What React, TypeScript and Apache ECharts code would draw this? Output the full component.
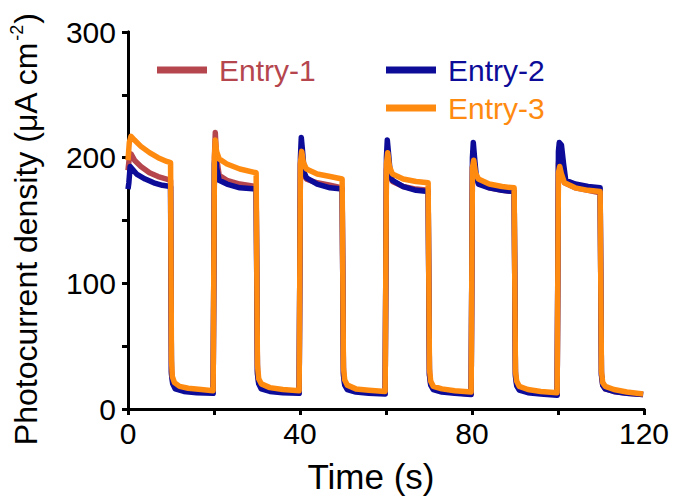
import React, { useEffect, useRef } from "react";
import * as echarts from "echarts";

const FONT = "Arial, 'Liberation Sans', sans-serif";

const seriesNames = ["Entry-1", "Entry-2", "Entry-3"];
const seriesColors = ["#b5464e", "#0c0c98", "#ff8a10"];

const xTicks = [0, 40, 80, 120];
const yTicks = [0, 100, 200, 300];

// Entry-1 (time s, photocurrent µA cm^-2)
const entry1: number[][] = [
  [0, 190], [0.3, 200], [0.7, 203], [1.5, 198], [3, 193], [5, 188], [7, 185], [9, 183], [9.9, 182],
  [10.1, 30], [10.4, 22], [11, 18], [13, 16], [16, 14.5], [19.8, 13.5],
  [20.1, 200], [20.3, 220], [20.6, 200], [21.2, 186], [23, 182], [26, 179], [29.8, 177],
  [30.1, 30], [30.4, 21], [31, 17.5], [33, 15.5], [36, 14], [39.8, 13],
  [40.1, 195], [40.4, 203], [40.8, 188], [41.5, 183], [44, 180], [47, 178], [49.8, 176],
  [50.1, 29], [50.4, 20], [51, 17], [53, 15], [56, 13.5], [59.8, 12.5],
  [60.1, 190], [60.4, 200], [60.8, 187], [61.5, 181], [64, 177], [67, 175], [69.8, 174],
  [70.1, 28], [70.4, 20], [71, 16.5], [73, 14.5], [76, 13], [79.8, 12],
  [80.1, 192], [80.4, 200], [80.8, 186], [81.5, 180], [84, 176], [87, 174], [89.8, 173],
  [90.1, 28], [90.4, 19.5], [91, 16], [93, 14], [96, 12.5], [99.8, 11.5],
  [100.1, 195], [100.4, 205], [100.8, 190], [101.5, 180], [104, 176], [107, 174], [109.8, 172],
  [110.1, 28], [110.4, 19], [111, 16], [113, 14], [116, 12.5], [119.8, 11.5],
];

// Entry-2
const entry2: number[][] = [
  [0, 175], [0.2, 180], [0.5, 193], [1, 191], [2, 187], [4, 183], [6, 180], [8, 178], [9.9, 177],
  [10.1, 28], [10.4, 20], [11, 16], [13, 14], [16, 13], [19.8, 12.5],
  [20.1, 195], [20.3, 205], [20.6, 192], [21.2, 182], [23, 179], [26, 176], [29.8, 175],
  [30.1, 28], [30.4, 20], [31, 16], [33, 14], [36, 13], [39.8, 12.5],
  [40.1, 200], [40.3, 216], [40.6, 205], [41, 188], [41.5, 184], [44, 179], [47, 176], [49.8, 175],
  [50.1, 27], [50.4, 19], [51, 15.5], [53, 13.5], [56, 12.5], [59.8, 12],
  [60.1, 200], [60.3, 214], [60.6, 203], [61, 187], [61.5, 182], [64, 177], [67, 174], [69.8, 173],
  [70.1, 27], [70.4, 19], [71, 15.5], [73, 13.5], [76, 12.5], [79.8, 11.5],
  [80.1, 200], [80.3, 212], [80.6, 200], [81, 185], [81.5, 179], [84, 176], [87, 174], [89.8, 173],
  [90.1, 26], [90.4, 18.5], [91, 15], [93, 13], [96, 12], [99.8, 11],
  [100.1, 205], [100.3, 212], [100.8, 210], [101.3, 195], [101.8, 182], [104, 179], [107, 177], [109.8, 176],
  [110.1, 27], [110.4, 19], [111, 16], [113, 14], [116, 12.5], [119.8, 11.5],
];

// Entry-3
const entry3: number[][] = [
  [0, 198], [0.3, 212], [0.7, 217], [1.5, 214], [3, 209], [5, 204], [7, 200], [9, 197], [9.9, 196],
  [10.1, 40], [10.3, 26], [10.8, 21], [12, 18], [14, 16.5], [17, 15.5], [19.8, 14.5],
  [20.1, 200], [20.3, 214], [20.6, 205], [21.2, 199], [23, 195], [26, 191], [29.8, 188],
  [30.1, 35], [30.4, 24], [31, 20], [33, 17], [36, 15.5], [39.8, 14.5],
  [40.1, 196], [40.4, 205], [40.8, 196], [41.5, 191], [44, 187], [47, 185], [49.8, 183],
  [50.1, 33], [50.4, 23], [51, 19], [53, 16], [56, 15], [59.8, 14],
  [60.1, 195], [60.4, 204], [60.8, 193], [61.5, 187], [64, 183], [67, 181], [69.8, 180],
  [70.1, 32], [70.4, 22], [71, 18], [73, 16], [76, 14.5], [79.8, 13.5],
  [80.1, 192], [80.4, 198], [80.8, 188], [81.5, 183], [84, 179], [87, 177], [89.8, 176],
  [90.1, 30], [90.4, 22], [91, 18], [93, 15.5], [96, 14], [99.8, 13],
  [100.1, 188], [100.4, 193], [100.8, 187], [101.5, 180], [104, 176], [107, 174], [109.8, 173],
  [110.1, 30], [110.4, 21], [111, 18], [113, 15.5], [116, 13.5], [119.8, 12],
];

const seriesData = [entry1, entry2, entry3];

const legendPos = [
  { left: 152, top: 50 },
  { left: 381, top: 50 },
  { left: 381, top: 88 },
];

export default function App() {
  const ref = useRef<HTMLDivElement>(null);
  useEffect(() => {
    if (!ref.current) return;
    const chart = echarts.init(ref.current, null, { renderer: "svg" });
    const axisLine = { show: true, lineStyle: { color: "#000", width: 3 } };
    chart.setOption({
      animation: false,
      backgroundColor: "#fff",
      grid: { left: 127, right: 30, top: 32, bottom: 89, containLabel: false },
      legend: seriesNames.map((n, i) => ({
        data: [n],
        left: legendPos[i].left,
        top: legendPos[i].top,
        icon: "rect",
        itemWidth: 50,
        itemHeight: 7,
        selectedMode: false,
        textStyle: {
          color: seriesColors[i],
          fontSize: 30,
          fontFamily: FONT,
          padding: [0, 0, 0, 7],
        },
      })),
      xAxis: [
        {
          type: "value",
          min: 0,
          max: 120,
          interval: 20,
          position: "bottom",
          name: "Time (s)",
          nameLocation: "middle",
          nameGap: 50,
          nameTextStyle: { fontSize: 35, fontFamily: FONT, color: "#000", padding: [0, 30, 0, 0] },
          axisLine,
          axisTick: { show: true, inside: false, length: 6, lineStyle: { color: "#000", width: 3 } },
          axisLabel: {
            margin: 9,
            fontSize: 30,
            fontFamily: FONT,
            color: "#000",
            formatter: (v: number) => (xTicks.includes(v) ? String(v) : ""),
          },
          splitLine: { show: false },
        },
        {
          type: "value",
          min: 0,
          max: 120,
          interval: 20,
          position: "top",
          axisLine,
          axisTick: { show: false },
          axisLabel: { show: false },
          splitLine: { show: false },
        },
      ],
      yAxis: [
        {
          type: "value",
          min: 0,
          max: 300,
          interval: 50,
          position: "left",
          name: "{a|Photocurrent density (μA cm}{s|-2}{a|)}",
          nameLocation: "middle",
          nameGap: 84,
          nameTextStyle: {
            color: "#000",
            fontFamily: FONT,
            padding: [0, 18, 0, 0],
            rich: {
              a: { fontSize: 32, fontFamily: FONT, color: "#000", lineHeight: 36 },
              s: { fontSize: 18, fontFamily: FONT, color: "#000", verticalAlign: "top", lineHeight: 36, padding: [0, 1, 14, 1] },
            },
          },
          axisLine,
          axisTick: { show: true, inside: false, length: 6, lineStyle: { color: "#000", width: 3 } },
          axisLabel: {
            margin: 12,
            fontSize: 30,
            fontFamily: FONT,
            color: "#000",
            formatter: (v: number) => (yTicks.includes(v) ? String(v) : ""),
          },
          splitLine: { show: false },
        },
        {
          type: "value",
          min: 0,
          max: 300,
          interval: 50,
          position: "right",
          axisLine,
          axisTick: { show: true, inside: true, length: 5, lineStyle: { color: "#000", width: 3 } },
          axisLabel: { show: false },
          splitLine: { show: false },
        },
      ],
      series: seriesNames.map((n, i) => ({
        name: n,
        type: "line",
        xAxisIndex: 0,
        yAxisIndex: 0,
        data: seriesData[i],
        showSymbol: false,
        symbol: "none",
        color: seriesColors[i],
        lineStyle: { color: seriesColors[i], width: 5.5, join: "round" },
        z: 2 + i,
      })),
    });
    return () => chart.dispose();
  }, []);
  return (
    <div
      ref={ref}
      style={{ position: "fixed", left: 0, top: 0, width: 674, height: 499, background: "#fff" }}
    />
  );
}
